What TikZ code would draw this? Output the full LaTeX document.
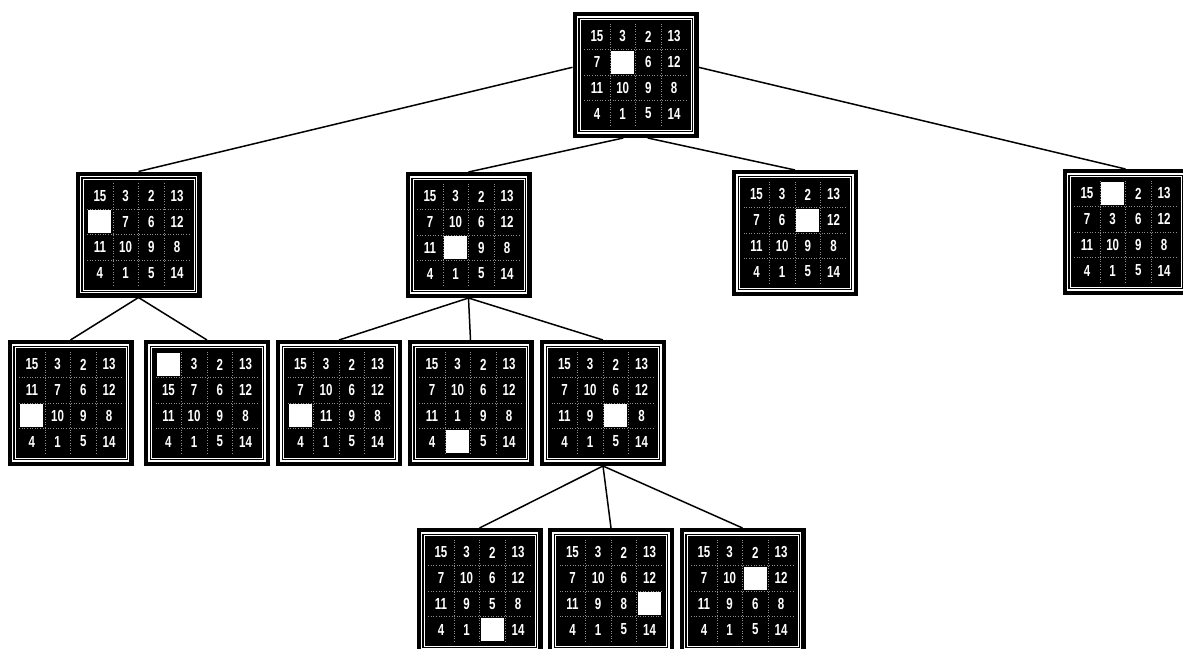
\documentclass[tikz,border=0pt]{standalone}
\usepackage{fontspec}
\setmainfont{Liberation Sans}
\usepackage{graphicx}
\tikzset{
  board/.style={draw=black, fill=black, line width=2pt, minimum size=124pt, inner sep=0pt},
  frameA/.style={draw=white, line width=1.2pt},
  frameB/.style={draw=white, line width=0.5pt},
  gridl/.style={draw=white!55!black, line width=0.6pt, dotted},
  digit/.style={text=white, inner sep=0pt, font=\bfseries\fontsize{16}{16}\selectfont},
  hole/.style={fill=white, draw=none, minimum size=23pt, inner sep=0pt},
  link/.style={draw=black, line width=1.5pt},
}
\newcommand\puzzleboard[4]{%
  \node[board] (#1) at (#2,#3) {};
  \draw[frameA] (#2-58,#3-58) rectangle (#2+58,#3+58);
  \draw[frameB] (#2-55.5,#3-55.5) rectangle (#2+55.5,#3+55.5);
  \foreach \k in {-1,0,1} {
    \draw[gridl] (#2+\k*25.7,#3-51.4) -- (#2+\k*25.7,#3+51.4);
    \draw[gridl] (#2-51.4,#3+\k*25.7) -- (#2+51.4,#3+\k*25.7);
  }
  \foreach \v [count=\i from 0] in {#4} {
    \pgfmathsetmacro\cx{#2+(mod(\i,4)-1.5)*25.7}
    \pgfmathsetmacro\cy{#3+(floor(\i/4)-1.5)*25.7}
    \ifnum\v=0
      \node[hole] (#1-\i) at (\cx,\cy) {};
    \else
      \node[digit] (#1-\i) at (\cx,\cy) {\scalebox{0.72}[1]{\v}};
    \fi
  }
}
\begin{document}
\begin{tikzpicture}[x=1pt, y=-1pt]
  \useasboundingbox (0,0) rectangle (1183,648);
  \clip (0,0) rectangle (1183,648);
  \fill[white] (0,0) rectangle (1183,648);
  % level 0
  \puzzleboard{root}{635.5}{75}{15,3,2,13,7,0,6,12,11,10,9,8,4,1,5,14}
  % level 1
  \puzzleboard{A}{138.5}{234.5}{15,3,2,13,0,7,6,12,11,10,9,8,4,1,5,14}
  \puzzleboard{B}{468.5}{235}{15,3,2,13,7,10,6,12,11,0,9,8,4,1,5,14}
  \puzzleboard{C}{795}{233}{15,3,2,13,7,6,0,12,11,10,9,8,4,1,5,14}
  \puzzleboard{D}{1125.5}{232}{15,0,2,13,7,3,6,12,11,10,9,8,4,1,5,14}
  % level 2
  \puzzleboard{E}{70.5}{403}{15,3,2,13,11,7,6,12,0,10,9,8,4,1,5,14}
  \puzzleboard{F}{207}{403}{0,3,2,13,15,7,6,12,11,10,9,8,4,1,5,14}
  \puzzleboard{G}{339}{403}{15,3,2,13,7,10,6,12,0,11,9,8,4,1,5,14}
  \puzzleboard{H}{470.5}{403}{15,3,2,13,7,10,6,12,11,1,9,8,4,0,5,14}
  \puzzleboard{I}{603}{403}{15,3,2,13,7,10,6,12,11,9,0,8,4,1,5,14}
  % level 3
  \puzzleboard{J}{479.5}{591}{15,3,2,13,7,10,6,12,11,9,5,8,4,1,0,14}
  \puzzleboard{K}{611}{591}{15,3,2,13,7,10,6,12,11,9,8,0,4,1,5,14}
  \puzzleboard{L}{742.5}{591}{15,3,2,13,7,10,0,12,11,9,6,8,4,1,5,14}
  % connectors
  \draw[link] (root.173) -- (A.north);
  \draw[link] (root.-101) -- (B.north);
  \draw[link] (root.-79) -- (C.north);
  \draw[link] (root.7) -- (D.north);
  \draw[link] (A.south) -- (E.north);
  \draw[link] (A.south) -- (F.north);
  \draw[link] (B.south) -- (G.north);
  \draw[link] (B.south) -- (H.north);
  \draw[link] (B.south) -- (I.north);
  \draw[link] (I.south) -- (J.north);
  \draw[link] (I.south) -- (K.north);
  \draw[link] (I.south) -- (L.north);
\end{tikzpicture}
\end{document}
